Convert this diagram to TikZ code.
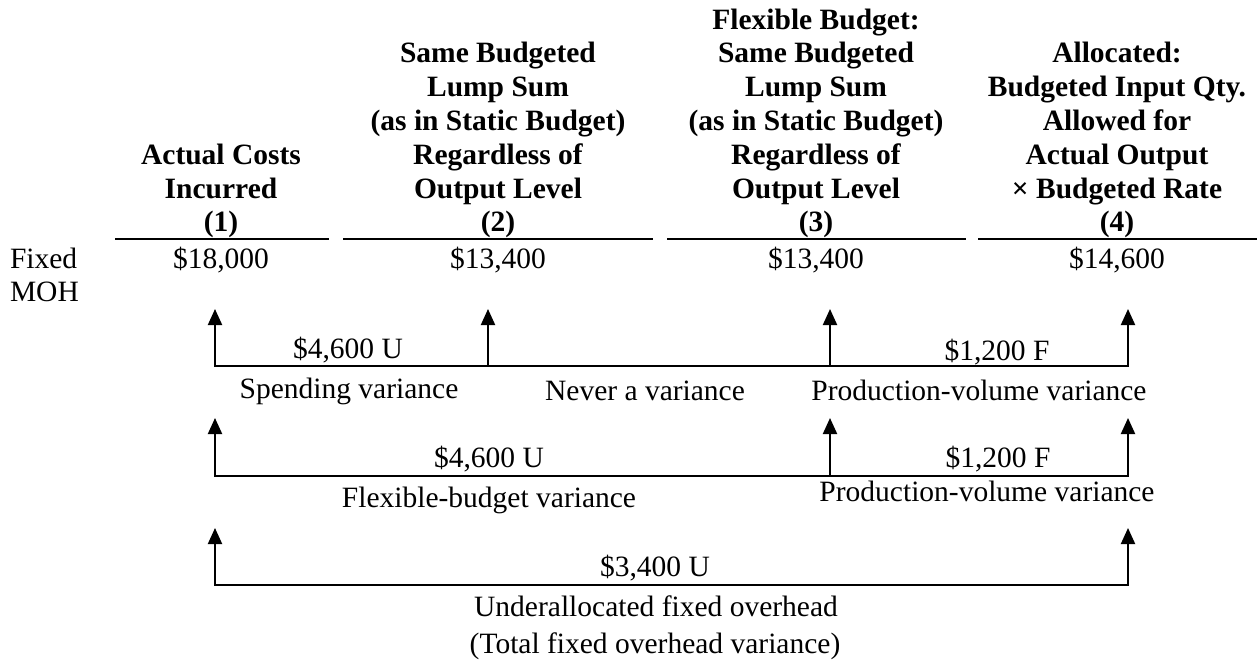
\documentclass[tikz,border=0pt]{standalone}
\usepackage{fontspec}
\setmainfont{Liberation Serif}
\usetikzlibrary{arrows.meta}
\tikzset{
  txt/.style={inner sep=0pt, outer sep=0pt, anchor=base, font=\fontsize{29.5}{33.8}\selectfont},
  head/.style={txt, font=\fontsize{29.5}{33.8}\selectfont\bfseries},
  rule/.style={line width=1.6pt},
  conn/.style={line width=2pt},
  tip/.style={-{Triangle[length=16pt,width=14pt]}},
  tips/.style={{Triangle[length=16pt,width=14pt]}-{Triangle[length=16pt,width=14pt]}}
}
\newcommand{\hd}[1]{\begin{tabular}[b]{@{}c@{}}#1\end{tabular}}
\begin{document}
\begin{tikzpicture}[x=1pt,y=-1pt]
\useasboundingbox (0,0) rectangle (1257,660);
% headers
\node[head] (h1) at (221,232) {\hd{Actual Costs\\Incurred\\(1)}};
\node[head] (h2) at (498,232) {\hd{Same Budgeted\\Lump Sum\\(as in Static Budget)\\Regardless of\\Output Level\\(2)}};
\node[head] (h3) at (816,232) {\hd{Flexible Budget:\\Same Budgeted\\Lump Sum\\(as in Static Budget)\\Regardless of\\Output Level\\(3)}};
\node[head] (h4) at (1117,232) {\hd{Allocated:\\Budgeted Input Qty.\\Allowed for\\Actual Output\\× Budgeted Rate\\(4)}};
% rules
\coordinate (u1a) at (115,239); \coordinate (u1b) at (329,239);
\coordinate (u2a) at (343,239); \coordinate (u2b) at (653,239);
\coordinate (u3a) at (667,239); \coordinate (u3b) at (966,239);
\coordinate (u4a) at (978,239); \coordinate (u4b) at (1257,239);
\draw[rule] (u1a) -- (u1b);
\draw[rule] (u2a) -- (u2b);
\draw[rule] (u3a) -- (u3b);
\draw[rule] (u4a) -- (u4b);
% values
\node[txt, anchor=base west] (lab) at (10,268) {\begin{tabular}[t]{@{}l@{}}Fixed\\MOH\end{tabular}};
\node[txt] (v1) at (221,268) {\$18,000};
\node[txt] (v2) at (498,268) {\$13,400};
\node[txt] (v3) at (816,268) {\$13,400};
\node[txt] (v4) at (1117,268) {\$14,600};
% row 1
\coordinate (r1t1) at (215,309); \coordinate (r1b1) at (215,366);
\coordinate (r1t2) at (488,309); \coordinate (r1b2) at (488,366);
\coordinate (r1t3) at (830,309); \coordinate (r1b3) at (830,366);
\coordinate (r1t4) at (1128,309); \coordinate (r1b4) at (1128,366);
\draw[conn,tips] (r1t1) -- (r1b1) -- (r1b4) -- (r1t4);
\draw[conn,tip] (r1b2) -- (r1t2);
\draw[conn,tip] (r1b3) -- (r1t3);
\node[txt] (a1) at (348,358) {\$4,600 U};
\node[txt] (a2) at (997,360) {\$1,200 F};
\node[txt] (n1) at (349,398) {Spending variance};
\node[txt] (n2) at (645,400) {Never a variance};
\node[txt] (n3) at (979,400) {Production-volume variance};
% row 2
\coordinate (r2t1) at (215,418); \coordinate (r2b1) at (215,476);
\coordinate (r2t3) at (830,418); \coordinate (r2b3) at (830,476);
\coordinate (r2t4) at (1128,418); \coordinate (r2b4) at (1128,476);
\draw[conn,tips] (r2t1) -- (r2b1) -- (r2b4) -- (r2t4);
\draw[conn,tip] (r2b3) -- (r2t3);
\node[txt] (b1) at (489,467) {\$4,600 U};
\node[txt] (b2) at (998,467) {\$1,200 F};
\node[txt] (m1) at (489,507) {Flexible-budget variance};
\node[txt] (m2) at (987,501) {Production-volume variance};
% row 3
\coordinate (r3t1) at (215,528); \coordinate (r3b1) at (215,585);
\coordinate (r3t4) at (1128,528); \coordinate (r3b4) at (1128,585);
\draw[conn,tips] (r3t1) -- (r3b1) -- (r3b4) -- (r3t4);
\node[txt] (c1) at (655,576) {\$3,400 U};
\node[txt] (k1) at (656,616) {Underallocated fixed overhead};
\node[txt] (k2) at (655,653) {(Total fixed overhead variance)};
\end{tikzpicture}
\end{document}
